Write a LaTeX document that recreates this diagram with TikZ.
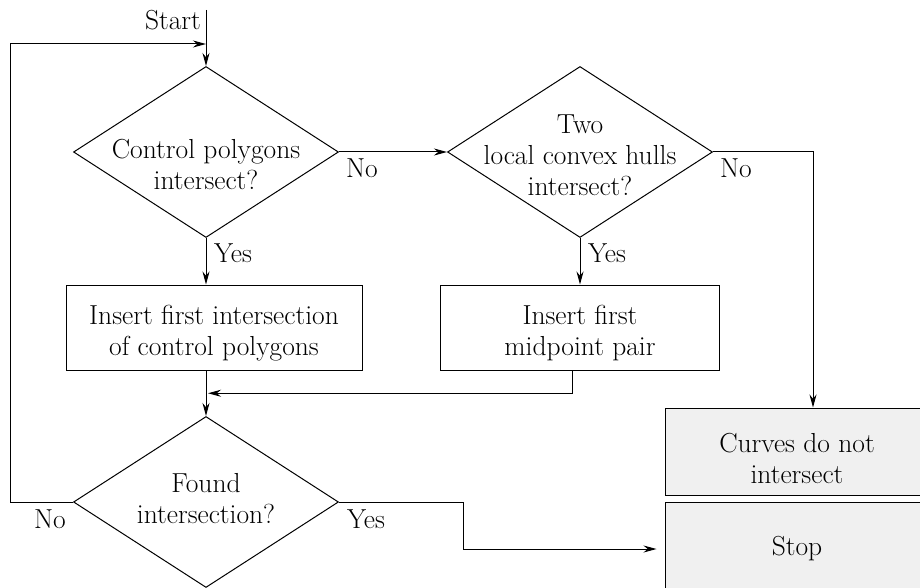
\documentclass[tikz,border=0pt]{standalone}
\usetikzlibrary{shapes.geometric,arrows.meta,calc}
\definecolor{termgray}{HTML}{F0F0F0}
\begin{document}
\begin{tikzpicture}[x=1pt,y=-1pt,
  every node/.style={font=\fontsize{27.5}{31}\selectfont},
  decision/.style={draw, shape=diamond, minimum width=265pt, minimum height=171pt, inner sep=0pt, line width=1pt},
  procbox/.style={draw, rectangle, line width=1pt, inner sep=0pt},
  endbox/.style={procbox, fill=termgray},
  caption/.style={align=center, inner sep=0pt},
  flow/.style={line width=1pt, -{Stealth[length=13pt,width=7pt]}}]
\useasboundingbox (0,0) rectangle (920,588);
\clip (0,0) rectangle (920,588);

% decisions
\node[decision] (d1) at (206,152) {};
\node[caption] (t1) at (206,164) {Control polygons\\intersect?};
\node[decision] (d2) at (580,152) {};
\node[caption] (t2) at (580,155) {Two\\local convex hulls\\intersect?};
\node[decision] (d3) at (206,502) {};
\node[caption] (t3) at (206,499) {Found\\intersection?};

% process boxes
\node[procbox, minimum width=296pt, minimum height=85pt] (b1) at (214,327.5) {};
\node[caption] (tb1) at (214,333.5) {Insert first intersection\\of control polygons};
\node[procbox, minimum width=279pt, minimum height=85pt] (b2) at (579.5,327.5) {};
\node[caption] (tb2) at (580,333.5) {Insert first\\midpoint pair};

% terminal boxes
\node[endbox, minimum width=296pt, minimum height=87pt] (curves) at (813,451.5) {};
\node[caption] (tc) at (797,458) {Curves do not\\intersect};
\node[endbox, minimum width=296pt, minimum height=94pt] (stop) at (813,549) {};
\node[caption] (ts) at (797,549) {Stop};

% start
\coordinate (s) at (206,10);
\node (start) at (173,20) {Start};
\draw[flow] (s) -- (d1.north);

% connectors
\draw[flow] (d1.east) -- (d2.west);
\node (no1) at (362,168) {No};
\draw[flow] (d2.east) -| (curves.north);
\node (no2) at (736,168) {No};
\draw[flow] (d1.south) -- (d1.south |- b1.north);
\node (yes1) at (233,253) {Yes};
\draw[flow] (d2.south) -- (d2.south |- b2.north);
\node (yes2) at (607,253) {Yes};
\draw[flow] (b1.south -| d1.south) -- (d3.north);
\coordinate (join) at ($(b1.south -| d3.north)!0.5!(d3.north)$);
\draw[flow] ([xshift=-7.5pt]b2.south) |- ([xshift=2pt]join);
\draw[flow] (d3.west) -- ++(-63,0) |- ([yshift=22pt]d1.north);
\node (no3) at (50,519) {No};
\draw[flow] (d3.east) -- ++(124,0) |- ([xshift=-8pt]stop.west);
\node (yes3) at (366,519) {Yes};
\end{tikzpicture}
\end{document}
